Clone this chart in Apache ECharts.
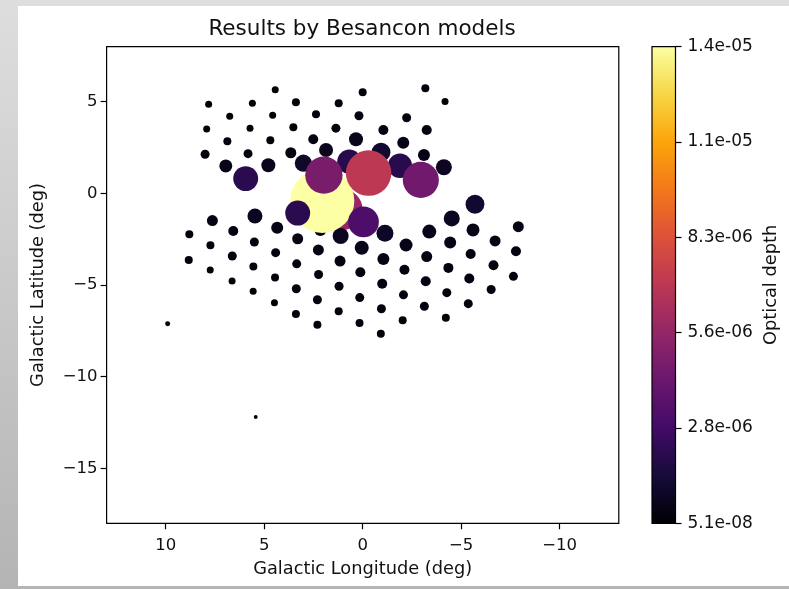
<!DOCTYPE html>
<html>
<head>
<meta charset="utf-8">
<script src="https://cdn.jsdelivr.net/npm/echarts@6/dist/echarts.min.js"></script>
<style>
  html, body { margin: 0; padding: 0; width: 789px; height: 589px; overflow: hidden;
    background: linear-gradient(to bottom, #dedede, #b4b4b4); }
  #chart { position: absolute; left: 18px; top: 6px; width: 771px; height: 580px; background: #fff; }
</style>
</head>
<body>
<div id="chart"></div>
<script>
// galactic longitude / latitude of each field (deg)
var lon = [1.05,
  4.44, 0.0, -3.18, 7.82, 5.6, 3.39, 1.22, -4.18, 6.75, 4.57, 2.37, 0.19, -2.23,
  7.92, 5.72, 3.52, 1.36, -1.05, -3.25, 6.87, 4.69, 2.51, 0.34, -2.06,
  8.0, 5.82, 3.65, 1.86, -0.93, -3.11, 6.95, 4.79, 3.01, 0.68, -1.89, -4.12, 5.94, -5.7,
  7.63, 5.47, 4.34, 2.15, 1.12, -1.13, -3.38, -4.52, -5.6, -7.9,
  8.8, 6.57, 7.73, 5.5, 3.3, 2.25, 0.05, -2.2, -4.44, -6.72, -7.78,
  8.83, 6.62, 4.42, 1.15, -1.05, -3.25, -5.48, -6.64,
  7.74, 5.55, 3.35, 0.12, -2.12, -4.35, -7.65,
  6.63, 4.45, 2.24, 1.2, -0.99, -3.2, -5.41, -6.52,
  5.56, 3.37, 0.15, -2.07, -4.27, 4.48, 2.3, 1.22, -0.95, -3.13, -5.36,
  3.39, 0.16, -2.03, -4.22, 2.3, -0.92, 9.9, 5.43,
  2.05, 1.97, -0.3, -2.95, 3.3, -0.04];
var lat = [-0.88,
  5.65, 5.51, 5.73, 4.86, 4.91, 4.96, 4.91, 5.0, 4.2, 4.26, 4.31, 4.23, 4.12,
  3.51, 3.55, 3.6, 3.55, 3.45, 3.45, 2.84, 2.89, 2.95, 2.95, 2.76,
  2.13, 2.16, 2.21, 2.36, 2.24, 2.09, 1.49, 1.53, 1.64, 1.72, 1.5, 1.42, 0.8, -0.6,
  -1.49, -1.24, -1.88, -2.0, -2.33, -2.18, -2.09, -1.37, -2.0, -1.82,
  -2.24, -2.06, -2.84, -2.66, -2.48, -3.09, -2.97, -2.82, -2.69, -2.6, -3.16,
  -3.64, -3.42, -3.24, -3.7, -3.58, -3.45, -3.31, -3.93,
  -4.18, -4.0, -3.85, -4.31, -4.17, -4.07, -4.53,
  -4.78, -4.6, -4.43, -5.07, -4.93, -4.8, -4.65, -5.25,
  -5.35, -5.21, -5.69, -5.54, -5.42, -5.97, -5.81, -6.44, -6.3, -6.16, -6.02,
  -6.58, -7.07, -6.93, -6.79, -7.17, -7.66, -7.12, -12.2,
  -0.42, 0.99, 1.1, 0.73, -1.08, -1.56];
// optical depth, in units of 1e-6
var depth = [5.7,
  0.166, 0.216, 0.216, 0.166, 0.166, 0.216, 0.216, 0.166, 0.166, 0.166, 0.216, 0.274, 0.274,
  0.166, 0.166, 0.216, 0.274, 0.338, 0.338, 0.216, 0.216, 0.338, 0.662, 0.487,
  0.274, 0.274, 0.409, 0.662, 1.2, 0.487, 0.571, 0.662, 1.0, 2.0, 2.0, 0.865, 2.1, 1.2,
  0.409, 0.76, 0.487, 0.487, 0.865, 0.977, 0.662, 0.865, 0.571, 0.409,
  0.216, 0.338, 0.216, 0.274, 0.409, 0.409, 0.662, 0.571, 0.487, 0.409, 0.338,
  0.216, 0.274, 0.274, 0.409, 0.487, 0.409, 0.338, 0.338,
  0.166, 0.216, 0.274, 0.338, 0.338, 0.338, 0.274,
  0.166, 0.216, 0.274, 0.274, 0.338, 0.338, 0.338, 0.274,
  0.166, 0.274, 0.274, 0.274, 0.274, 0.166, 0.274, 0.216, 0.274, 0.274, 0.274,
  0.216, 0.216, 0.216, 0.216, 0.216, 0.216, 0.084, 0.051,
  13.84, 4.7, 7.0, 4.4, 2.1, 3.2];

var lonTicks = [10, 5, 0, -5, -10];
var latTicks = [5, 0, -5, -10, -15];
var vmin = 5.1e-8, vmax = 1.384e-5;

var inferno = ['#000004', '#160b39', '#420a68', '#6a176e', '#932667', '#bc3754',
  '#dd513a', '#f37819', '#fca50a', '#f6d746', '#fcffa4'];

var points = lon.map(function (x, i) { return [x, lat[i], depth[i] * 1e-6]; });
var cbTicks = [0, 1, 2, 3, 4, 5].map(function (k) { return vmin + k * (vmax - vmin) / 5; });

var font = 'DejaVu Sans';
var ink = '#111';

function minus(v) { return v < 0 ? '\u2212' + Math.abs(v) : String(v); }
function sci(v) {
  return v.toExponential(1).replace(/e([+-])(\d+)$/, function (m, s, d) {
    return 'e' + s + (d.length < 2 ? '0' + d : d);
  });
}

var tickStyle = { show: true, length: 6, lineStyle: { color: '#000', width: 1.2 } };

var chart = echarts.init(document.getElementById('chart'));
chart.setOption({
  animation: false,
  textStyle: { fontFamily: font, color: ink },
  title: {
    text: 'Results by Besancon models',
    left: 344, top: 12, textAlign: 'center', padding: 0,
    textStyle: { fontFamily: font, fontSize: 21.5, fontWeight: 'normal', color: ink }
  },
  grid: [
    { left: 88.6, top: 40.6, width: 512.2, height: 476.7, show: true,
      borderColor: '#000', borderWidth: 1.2, backgroundColor: 'transparent' },
    { left: 634, top: 40.6, width: 23.5, height: 476.7, show: true,
      borderColor: '#000', borderWidth: 1.2,
      backgroundColor: { type: 'linear', x: 0, y: 1, x2: 0, y2: 0,
        colorStops: inferno.map(function (c, i) { return { offset: i / (inferno.length - 1), color: c }; }) } }
  ],
  xAxis: [
    { gridIndex: 0, type: 'value', min: -13, max: 13, inverse: true,
      name: 'Galactic Longitude (deg)', nameLocation: 'middle', nameGap: 37,
      nameTextStyle: { fontFamily: font, fontSize: 17.8, color: ink },
      axisLine: { show: false, onZero: false }, splitLine: { show: false },
      axisTick: Object.assign({ customValues: lonTicks }, tickStyle),
      axisLabel: { customValues: lonTicks, formatter: minus, margin: 14, fontSize: 16.5, color: ink, fontFamily: font } },
    { gridIndex: 1, type: 'value', min: 0, max: 1, show: false }
  ],
  yAxis: [
    { gridIndex: 0, type: 'value', min: -18, max: 8,
      name: 'Galactic Latitude (deg)', nameLocation: 'middle', nameGap: 59,
      nameTextStyle: { fontFamily: font, fontSize: 17.8, color: ink },
      axisLine: { show: false, onZero: false }, splitLine: { show: false },
      axisTick: Object.assign({ customValues: latTicks }, tickStyle),
      axisLabel: { customValues: latTicks, formatter: minus, margin: 9, fontSize: 16.5, color: ink, fontFamily: font } },
    { gridIndex: 1, type: 'value', min: vmin, max: vmax, position: 'right',
      name: 'Optical depth', nameLocation: 'middle', nameGap: 87,
      nameTextStyle: { fontFamily: font, fontSize: 17.8, color: ink },
      axisLine: { show: false, onZero: false }, splitLine: { show: false },
      axisTick: Object.assign({ customValues: cbTicks }, tickStyle),
      axisLabel: { customValues: cbTicks, formatter: sci, margin: 12, fontSize: 17, color: ink, fontFamily: font,
        showMinLabel: true, showMaxLabel: true } }
  ],
  visualMap: {
    type: 'continuous', show: false, min: vmin, max: vmax, dimension: 2, seriesIndex: 0,
    inRange: { color: inferno }
  },
  series: [{
    type: 'scatter', xAxisIndex: 0, yAxisIndex: 0,
    data: points,
    symbolSize: function (d) { return 64 * Math.sqrt(d[2] / vmax); },
    itemStyle: { opacity: 1 },
    emphasis: { disabled: true },
    silent: true
  }]
});
</script>
</body>
</html>
